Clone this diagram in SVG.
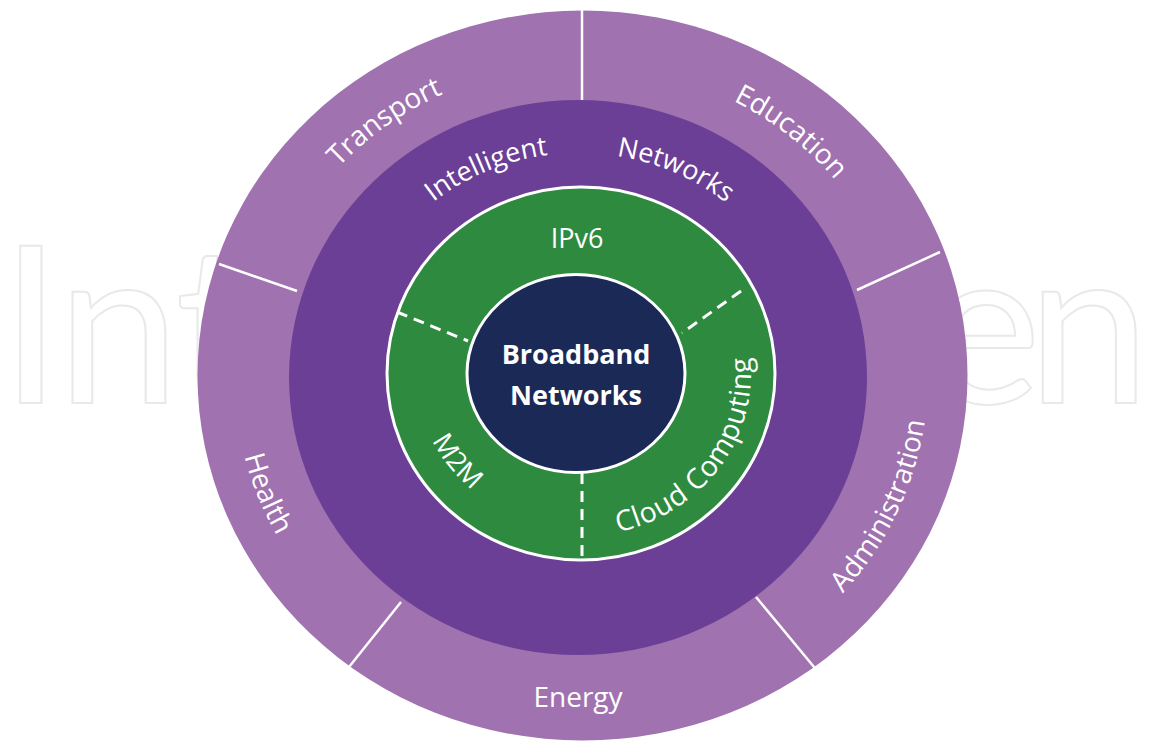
<svg xmlns="http://www.w3.org/2000/svg" xmlns:xlink="http://www.w3.org/1999/xlink" width="1150" height="748" viewBox="0 0 1150 748">
<defs>
<style>
.wm{font-family:Lato,"Open Sans",sans-serif;font-size:220px;fill:none;stroke:#e9e9e9;stroke-width:2}
.lbl{font-family:"Open Sans","Liberation Sans",sans-serif;fill:#ffffff}
.outer{font-size:28px}
.mid{font-size:27px}
.inner{font-size:27px}
.cloud{font-size:28.5px;letter-spacing:0.6px}
.core{font-family:"Open Sans","Liberation Sans",sans-serif;font-weight:bold;font-size:27px;fill:#ffffff}
.div{stroke:#ffffff;stroke-width:2.5;fill:none}
.dash{stroke:#ffffff;stroke-width:3;stroke-dasharray:11 7;fill:none}
</style>
<path id="pTransport" d="M257.2,332.7 A327,311 0 0 1 626.5,68.0"/>
<path id="pEducation" d="M552.5,66.2 A327,311 0 0 1 906.8,348.9"/>
<path id="pAdmin" d="M705.4,685.0 A347,331 0 0 0 905.0,257.4"/>
<path id="pHealth" d="M264.0,241.4 A347,331 0 0 0 439.9,678.4"/>
<path id="pIntel" d="M370.5,276.5 A233,223 0 0 1 645.2,162.2"/>
<path id="pNet" d="M516.7,161.1 A233,223 0 0 1 789.3,280.0"/>
<path id="pM2M" d="M416.1,378.9 A163,154 0 0 0 528.6,520.0"/>
<path id="pCloud" d="M564.0,535.9 A172,163 0 0 0 734.9,304.6"/>
</defs>
<rect width="1150" height="748" fill="#ffffff"/>
<g id="watermark">
<text class="wm" x="0" y="403" letter-spacing="-3">Int</text>
<text class="wm" x="925" y="403" letter-spacing="-14">en</text>
</g>
<g id="ring-outer">
<ellipse cx="582.5" cy="375.5" rx="385" ry="365" fill="#A072AF"/>
</g>
<g id="ring-purple">
<ellipse cx="578" cy="377.5" rx="289" ry="277.5" fill="#6C3F97"/>
</g>
<g id="ring-green">
<ellipse cx="581" cy="373.5" rx="194" ry="186.5" fill="#2E8A3F" stroke="#ffffff" stroke-width="3"/>
</g>
<g id="core">
<ellipse cx="576" cy="373.5" rx="109" ry="99" fill="#1B2957" stroke="#ffffff" stroke-width="3"/>
<text class="core" x="576" y="364" text-anchor="middle">Broadband</text>
<text class="core" x="576" y="405" text-anchor="middle">Networks</text>
</g>
<g id="connectors">
<line class="div" x1="582" y1="10" x2="582" y2="100"/>
<line class="div" x1="219" y1="264" x2="297" y2="291"/>
<line class="div" x1="940" y1="252" x2="857" y2="290"/>
<line class="div" x1="401" y1="602" x2="345" y2="672"/>
<line class="div" x1="756" y1="597" x2="819" y2="673"/>
<line class="dash" x1="397" y1="312" x2="468" y2="341"/>
<line class="dash" x1="741" y1="291" x2="682" y2="333"/>
<line class="dash" x1="582" y1="473" x2="582" y2="559"/>
</g>
<g id="transport"><text class="lbl outer"><textPath xlink:href="#pTransport" startOffset="50%" text-anchor="middle">Transport</textPath></text></g>
<g id="education"><text class="lbl outer"><textPath xlink:href="#pEducation" startOffset="50%" text-anchor="middle">Education</textPath></text></g>
<g id="administration"><text class="lbl outer"><textPath xlink:href="#pAdmin" startOffset="50%" text-anchor="middle">Administration</textPath></text></g>
<g id="health"><text class="lbl outer"><textPath xlink:href="#pHealth" startOffset="50%" text-anchor="middle">Health</textPath></text></g>
<g id="energy"><text class="lbl outer" x="578" y="707" text-anchor="middle">Energy</text></g>
<g id="intelligent-networks">
<text class="lbl mid"><textPath xlink:href="#pIntel" startOffset="50%" text-anchor="middle">Intelligent</textPath></text>
<text class="lbl mid"><textPath xlink:href="#pNet" startOffset="50%" text-anchor="middle">Networks</textPath></text>
</g>
<g id="ipv6"><text class="lbl inner" x="577" y="248" text-anchor="middle">IPv6</text></g>
<g id="m2m"><text class="lbl inner"><textPath xlink:href="#pM2M" startOffset="50%" text-anchor="middle">M2M</textPath></text></g>
<g id="cloud"><text class="lbl cloud"><textPath xlink:href="#pCloud" startOffset="50%" text-anchor="middle">Cloud Computing</textPath></text></g>
</svg>
